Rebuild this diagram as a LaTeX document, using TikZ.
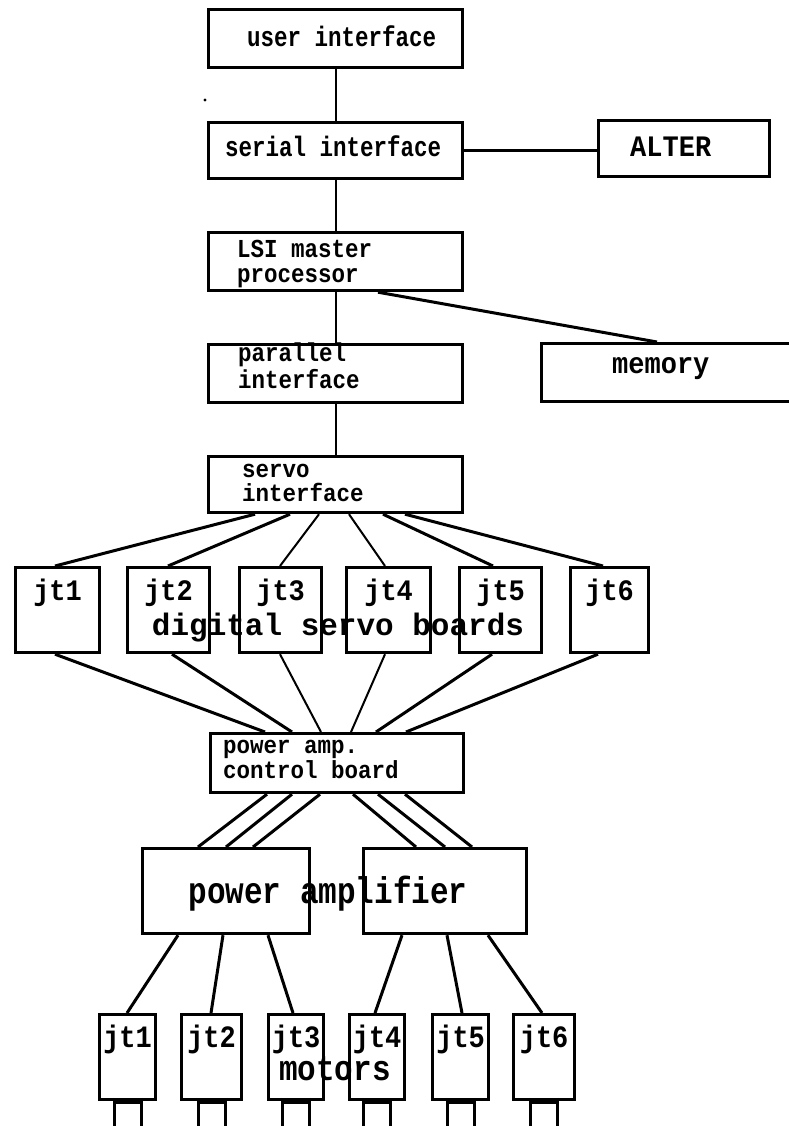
\documentclass[tikz,border=0pt]{standalone}
\usepackage{graphicx}
\usepackage{fontspec}
\setmonofont{Liberation Mono}
\usetikzlibrary{calc}
\newcommand\mybox[5]{\node[box, anchor=north west, minimum width={(#4-#2)*1pt}, minimum height={(#5-#3)*1pt}] (#1) at (#2,#3) {};}
\newcommand\link[5][conn]{\draw[#1] ($(#2.south west)+(#3,0)$) -- ($(#4.north west)+(#5,0)$);}
\newcommand\vs[2]{\scalebox{1}[#1]{#2}}
\begin{document}
\begin{tikzpicture}[x=1pt,y=-1pt,
  box/.style={draw, line width=3.2pt, rectangle, inner sep=0pt},
  conn/.style={line width=3pt},
  thin conn/.style={line width=2pt},
  lbl/.style={inner sep=0pt},
  small/.style={lbl, font=\ttfamily\bfseries\fontsize{22.5}{22.5}\selectfont},
  wide/.style={lbl, font=\ttfamily\bfseries\fontsize{27}{27}\selectfont},
  big/.style={lbl, font=\ttfamily\bfseries\fontsize{31}{31}\selectfont},
  mid/.style={lbl, font=\ttfamily\bfseries\fontsize{27}{27}\selectfont}]
\useasboundingbox (0,0) rectangle (788,1126);
% boxes
\mybox{ui}{207}{8}{461}{66}
\mybox{si}{207}{121}{461}{177}
\mybox{alter}{597}{119}{768}{175}
\mybox{lsi}{207}{231}{461}{289}
\mybox{par}{207}{343}{461}{401}
\mybox{mem}{540}{342}{800}{400}
\mybox{servo}{207}{455}{461}{511}
\mybox{ds1}{14}{566}{98}{651}
\mybox{ds2}{126}{566}{208}{651}
\mybox{ds3}{238}{566}{320}{651}
\mybox{ds4}{345}{566}{429}{651}
\mybox{ds5}{458}{566}{540}{651}
\mybox{ds6}{569}{566}{647}{651}
\mybox{pacb}{209}{732}{462}{791}
\mybox{pa1}{141}{847}{308}{932}
\mybox{pa2}{362}{847}{525}{932}
\mybox{m1}{98}{1013}{154}{1098}
\mybox{m2}{180}{1013}{240}{1098}
\mybox{m3}{267}{1013}{322}{1098}
\mybox{m4}{348}{1013}{403}{1098}
\mybox{m5}{431}{1013}{487}{1098}
\mybox{m6}{512}{1013}{573}{1098}
\foreach \i in {1,...,6}{
  \node[box, anchor=north, minimum width=27pt, minimum height=40pt] (sh\i) at (m\i.south) {};
}
\node[circle, fill, inner sep=1.1pt] (speck) at (205,100) {};
% texts
\node[small, anchor=base west] (tui) at (247,47) {\vs{1.25}{user interface}};
\node[small, anchor=base west] (tsi) at (225,157) {\vs{1.25}{serial interface}};
\node[wide, anchor=base west] (talter) at (630,157) {\vs{1.1}{ALTER}};
\node[small, anchor=base west] (tlsia) at (237,257) {\vs{1.15}{LSI master}};
\node[small, anchor=base west] (tlsib) at (237,282) {\vs{1.15}{processor}};
\node[small, anchor=base west] (tpara) at (238,361) {\vs{1.15}{parallel}};
\node[small, anchor=base west] (tparb) at (238,388) {\vs{1.15}{interface}};
\node[wide, anchor=base west] (tmem) at (612,373) {\vs{1.1}{memory}};
\node[small, anchor=base west] (tsva) at (242,477) {\vs{1.1}{servo}};
\node[small, anchor=base west] (tsvb) at (242,501) {\vs{1.1}{interface}};
\node[small, anchor=base west] (tpca) at (223,753) {\vs{1.1}{power amp.}};
\node[small, anchor=base west] (tpcb) at (223,778) {\vs{1.1}{control board}};
\foreach \i in {1,...,6}{
  \node[mid, anchor=base] (tds\i) at ($(ds\i.north)+(0,34)$) {\vs{1.1}{jt\i}};
  \node[mid, anchor=base] (tm\i) at ($(m\i.north)+(0,34)$) {\vs{1.15}{jt\i}};
}
\node[big, anchor=base] (tdsb) at (338,635) {digital servo boards};
\node[big, anchor=base] (tpa) at (328,903) {\vs{1.2}{power amplifier}};
\node[big, anchor=base] (tmot) at (335,1080) {\vs{1.15}{motors}};
% connectors
\draw[thin conn] (ui.south) -- (si.north);
\draw[conn] (si.east) -- (si.east -| alter.west);
\draw[thin conn] (si.south) -- (lsi.north);
\draw[thin conn] (lsi.south) -- (par.north);
\draw[thin conn] (par.south) -- (servo.north);
\link{lsi}{171}{mem}{117}
\link{servo}{48}{ds1}{41}
\link{servo}{83}{ds2}{42}
\link[thin conn]{servo}{112}{ds3}{42}
\link[thin conn]{servo}{142}{ds4}{40}
\link{servo}{176}{ds5}{35}
\link{servo}{198}{ds6}{34}
\link{ds1}{41}{pacb}{56}
\link{ds2}{46}{pacb}{83}
\link[thin conn]{ds3}{42}{pacb}{112}
\link[thin conn]{ds4}{40}{pacb}{142}
\link{ds5}{34}{pacb}{167}
\link{ds6}{29}{pacb}{197}
\link{pacb}{58}{pa1}{57}
\link{pacb}{83}{pa1}{85}
\link{pacb}{111}{pa1}{112}
\link{pacb}{144}{pa2}{54}
\link{pacb}{169}{pa2}{83}
\link{pacb}{196}{pa2}{110}
\link{pa1}{37}{m1}{29}
\link{pa1}{82}{m2}{31}
\link{pa1}{127}{m3}{26}
\link{pa2}{40}{m4}{27}
\link{pa2}{85}{m5}{31}
\link{pa2}{126}{m6}{30}
\end{tikzpicture}
\end{document}
